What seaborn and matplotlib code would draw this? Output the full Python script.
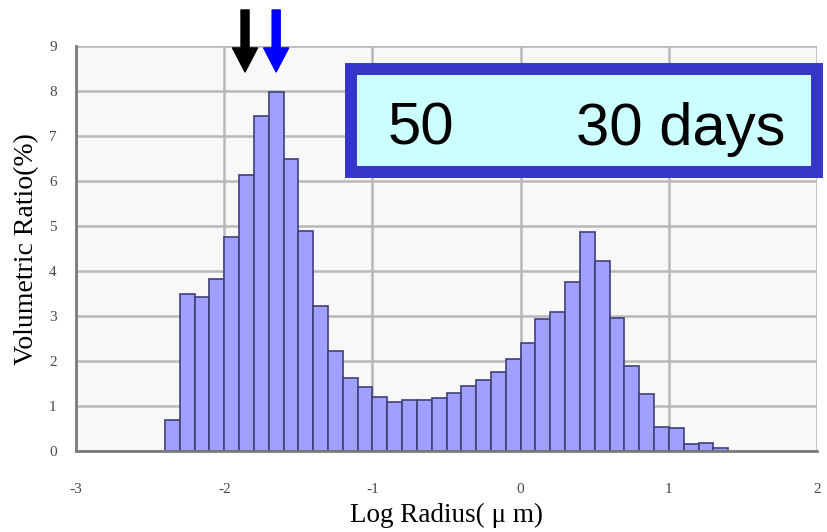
import numpy as np
import pandas as pd
import matplotlib
matplotlib.use('Agg')
import matplotlib.pyplot as plt
import seaborn as sns
from matplotlib.patches import Rectangle, FancyArrowPatch

# bin centres of log radius (bin width 0.1)
log_radius = [-2.35, -2.25, -2.15, -2.05, -1.95, -1.85, -1.75, -1.65, -1.55, -1.45,
              -1.35, -1.25, -1.15, -1.05, -0.95, -0.85, -0.75, -0.65, -0.55, -0.45,
              -0.35, -0.25, -0.15, -0.05, 0.05, 0.15, 0.25, 0.35, 0.45, 0.55,
              0.65, 0.75, 0.85, 0.95, 1.05, 1.15, 1.25, 1.35]
ratio = [0.70, 3.48, 3.43, 3.82, 4.76, 6.13, 7.45, 7.98, 6.48, 4.90,
         3.23, 2.23, 1.63, 1.43, 1.21, 1.10, 1.13, 1.13, 1.17, 1.30,
         1.44, 1.59, 1.76, 2.04, 2.41, 2.93, 3.10, 3.75, 4.86, 4.22,
         2.95, 1.90, 1.27, 0.53, 0.52, 0.15, 0.17, 0.08]
x_ticks = [-3, -2, -1, 0, 1, 2]
y_ticks = [0, 1, 2, 3, 4, 5, 6, 7, 8, 9]
arrow_x = [-1.86, -1.65]
arrow_colors = ['#000000', '#0000ff']

df = pd.DataFrame({'log_radius': log_radius, 'ratio': ratio})

sns.set_style('white')
plt.rcParams['font.family'] = ['Liberation Serif', 'DejaVu Serif']

fig = plt.figure(figsize=(8.27, 5.32), dpi=100)
ax = fig.add_axes([0.092, 0.152, 0.896, 0.7615])
ax.set_facecolor('#f8f8f8')

sns.barplot(data=df, x='log_radius', y='ratio', native_scale=True, width=1.0,
            color='#a0a0ff', saturation=1, edgecolor='#404078', linewidth=1.2,
            errorbar=None, ax=ax, zorder=3)

ax.set_xlim(-3, 2)
ax.set_ylim(0, 9)
ax.set_xticks(x_ticks)
ax.set_xticklabels([str(t) for t in x_ticks])
ax.set_yticks(y_ticks)
ax.set_yticklabels([str(t) for t in y_ticks])
ax.grid(True, color='#b8b8b8', linewidth=1.8, zorder=0)
ax.set_axisbelow(True)
for s in ['top', 'right']:
    ax.spines[s].set_visible(False)
for s in ['left', 'bottom']:
    ax.spines[s].set_color('#7a7a7a')
    ax.spines[s].set_linewidth(2)
    ax.spines[s].set_zorder(4)
ax.tick_params(axis='both', length=0, labelsize=11, labelcolor='#484848')
ax.tick_params(axis='x', pad=23)
ax.tick_params(axis='y', pad=14)

ax.set_xlabel('Log Radius( \u03bc m)', fontsize=19.5, labelpad=5, color='black')
ax.set_ylabel('Volumetric Ratio(%)', fontsize=20, labelpad=7, color='black')

# arrows above the first peak
trans = ax.get_xaxis_transform()
for xa, c in zip(arrow_x, arrow_colors):
    arr = FancyArrowPatch((xa, 1.089), (xa, 0.936), transform=trans,
                          arrowstyle='simple,head_width=1.8,head_length=1.73,tail_width=0.58',
                          mutation_scale=10, color=c, shrinkA=0, shrinkB=0,
                          clip_on=False, zorder=6)
    ax.add_patch(arr)

# label box
box = Rectangle((351 / 827, 1 - 172 / 532), (817 - 351) / 827, (172 - 69) / 532,
                transform=fig.transFigure, facecolor='#ccffff', edgecolor='#3535c8',
                linewidth=8.6, zorder=10)
fig.patches.append(box)
fig.text(388 / 827, 1 - 145 / 532, '50', fontsize=43, family='Liberation Sans',
         color='black', ha='left', va='baseline', zorder=11)
fig.text(785 / 827, 1 - 145 / 532, '30 days', fontsize=43, family='Liberation Sans',
         color='black', ha='right', va='baseline', zorder=11)

fig.savefig('out.png', dpi=100)
